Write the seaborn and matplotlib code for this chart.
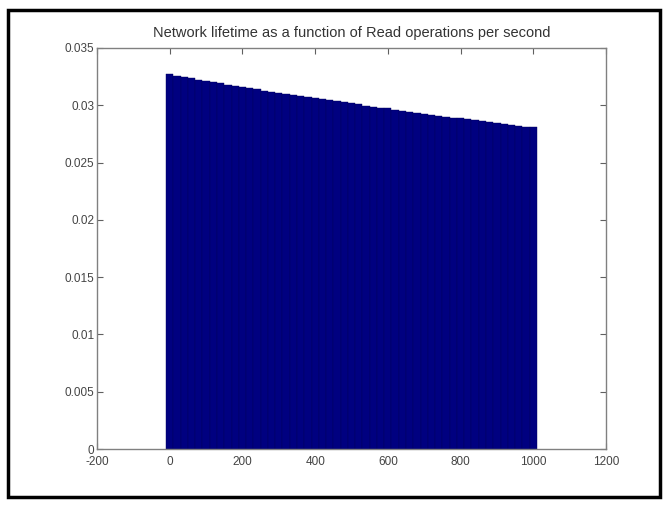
import matplotlib
matplotlib.use("Agg")
import matplotlib.pyplot as plt
from matplotlib.patches import Rectangle
import seaborn as sns
import pandas as pd

read_ops = list(range(0, 1001, 20))
lifetime = [0.03270, 0.03258, 0.03246, 0.03235, 0.03224, 0.03213, 0.03202, 0.03191,
            0.03180, 0.03170, 0.03159, 0.03149, 0.03139, 0.03129, 0.03119, 0.03109,
            0.03099, 0.03090, 0.03080, 0.03071, 0.03062, 0.03052, 0.03043, 0.03034,
            0.03025, 0.03016, 0.03007, 0.02998, 0.02989, 0.02980, 0.02972, 0.02963,
            0.02954, 0.02945, 0.02936, 0.02927, 0.02918, 0.02909, 0.02901, 0.02893,
            0.02885, 0.02877, 0.02869, 0.02861, 0.02853, 0.02845, 0.02837, 0.02829,
            0.02821, 0.02814, 0.02807]
x_ticks = [-200, 0, 200, 400, 600, 800, 1000, 1200]
y_ticks = [0, 0.005, 0.01, 0.015, 0.02, 0.025, 0.03, 0.035]
y_tick_labels = ["0", "0.005", "0.01", "0.015", "0.02", "0.025", "0.03", "0.035"]
title = "Network lifetime as a function of Read operations per second"

df = pd.DataFrame({"ops": read_ops, "life": lifetime})

sns.set_style("white")
plt.rcParams["font.family"] = ["Liberation Sans", "DejaVu Sans"]

fig = plt.figure(figsize=(6.68, 5.05), dpi=100)
ax = fig.add_axes([97/668, 1 - 449/505, (606-97)/668, (449-48)/505])

sns.barplot(data=df, x="ops", y="life", native_scale=True, width=1.0,
            color="#000080", saturation=1, edgecolor="#00005c", linewidth=0.3, ax=ax)

ax.set_xlim(-200, 1200)
ax.set_ylim(0, 0.035)
ax.set_xticks(x_ticks)
ax.set_xticklabels([str(t) for t in x_ticks])
ax.set_yticks(y_ticks)
ax.set_yticklabels(y_tick_labels)
ax.set_xlabel("")
ax.set_ylabel("")
ax.set_title(title, fontsize=10.5, color="#333333", pad=8)

for s in ax.spines.values():
    s.set_visible(True)
    s.set_color("#808080")
    s.set_linewidth(1.0)
ax.tick_params(direction="in", length=4, width=0.8, color="#606060",
               labelsize=8.5, labelcolor="#444444", top=True, right=True,
               bottom=True, left=True, pad=2)
ax.tick_params(axis="x", pad=5)

fig.patches.append(Rectangle((8/668, 8/505), 652/668, 487/505, transform=fig.transFigure,
                             fill=False, edgecolor="black", linewidth=2.5, zorder=10))

fig.savefig("out.png", dpi=100)
